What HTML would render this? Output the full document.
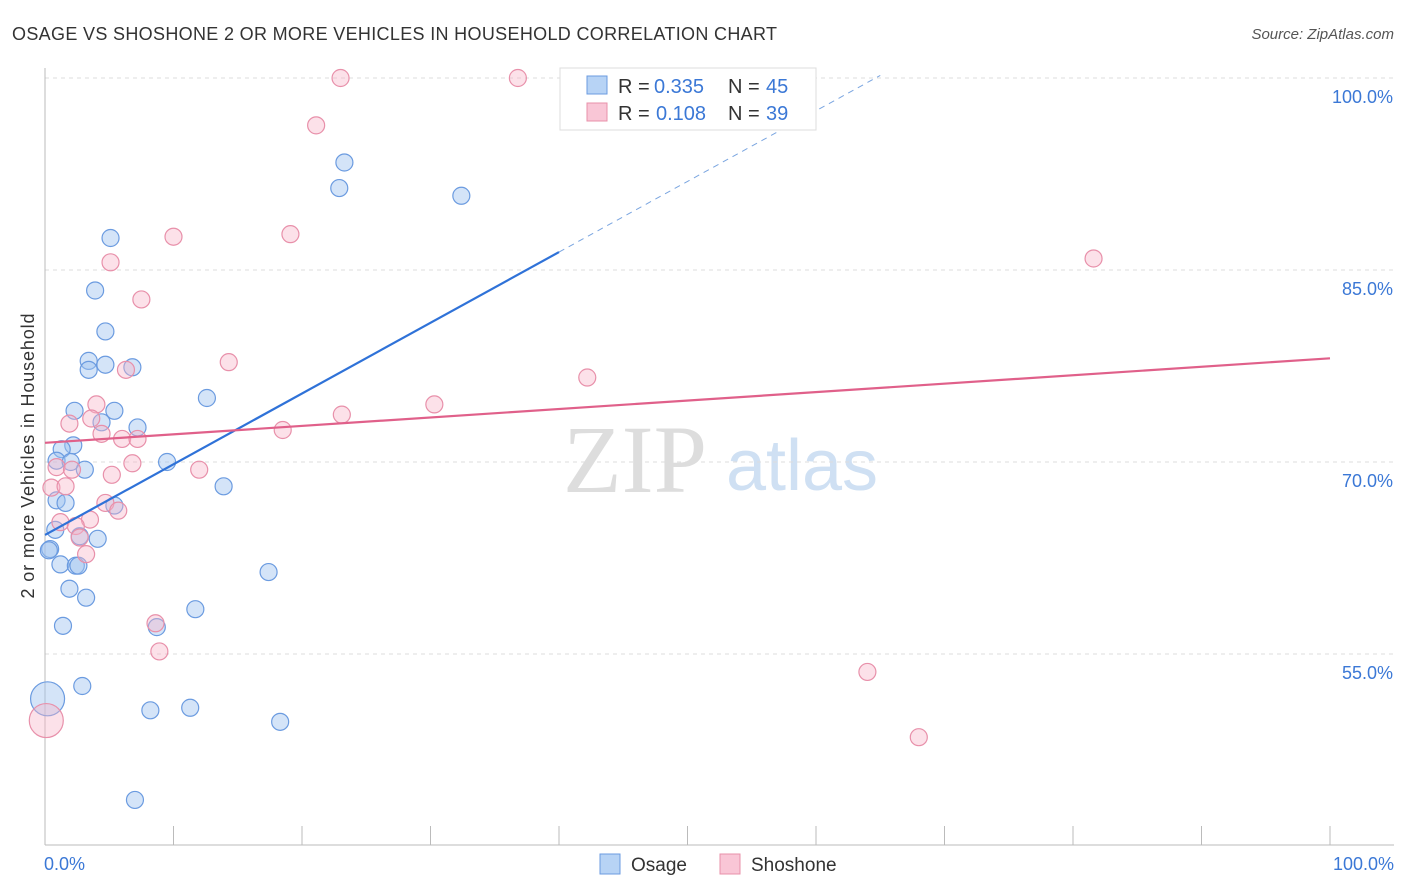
<!DOCTYPE html>
<html><head><meta charset="utf-8"><style>
body{margin:0;background:#fff;font-family:"Liberation Sans",sans-serif}
</style></head><body>
<svg id="c" width="1406" height="892" style="display:block">
<text x="12" y="40" font-size="18" fill="#333" textLength="765">OSAGE VS SHOSHONE 2 OR MORE VEHICLES IN HOUSEHOLD CORRELATION CHART</text>
<text x="1394" y="39" font-size="15" fill="#555" font-style="italic" text-anchor="end">Source: ZipAtlas.com</text>
<text x="635" y="492" font-size="96" fill="#ddd" font-family="Liberation Serif" text-anchor="middle">ZIP</text>
<text x="802" y="490" font-size="72" fill="#cfe0f3" text-anchor="middle">atlas</text>
<g id="grid"></g><g id="pts"></g>
<text transform="translate(34,456) rotate(-90)" font-size="18" fill="#333" text-anchor="middle" textLength="285">2 or more Vehicles in Household</text>
<text x="44" y="870" font-size="18" fill="#3b78d6">0.0%</text>
<text x="1394" y="870" font-size="18" fill="#3b78d6" text-anchor="end">100.0%</text>
<g>
<rect x="560" y="68" width="256" height="62" fill="#fff" stroke="#ddd"/>
<rect x="587" y="76" width="20" height="18" fill="#b7d3f5" stroke="#6b9be0"/>
<text x="618" y="93" font-size="20" fill="#333">R =</text>
<text x="654" y="93" font-size="20" fill="#3b78d6">0.335</text>
<text x="728" y="93" font-size="20" fill="#333">N =</text>
<text x="766" y="93" font-size="20" fill="#3b78d6">45</text>
<rect x="587" y="103" width="20" height="18" fill="#f9c6d6" stroke="#e890aa"/>
<text x="618" y="120" font-size="20" fill="#333">R =</text>
<text x="656" y="120" font-size="20" fill="#3b78d6">0.108</text>
<text x="728" y="120" font-size="20" fill="#333">N =</text>
<text x="766" y="120" font-size="20" fill="#3b78d6">39</text>
</g>
<g>
<rect x="600" y="854" width="20" height="20" fill="#b7d3f5" stroke="#6b9be0"/>
<text x="631" y="871" font-size="19" fill="#333">Osage</text>
<rect x="720" y="854" width="20" height="20" fill="#f9c6d6" stroke="#e890aa"/>
<text x="751" y="871" font-size="19" fill="#333">Shoshone</text>
</g>
</svg>
<script>
const osageX=[5.1,3.9,4.7,3.4,3.4,4.7,6.8,2.3,5.4,7.2,4.4,2.2,1.3,0.9,2,3.1,9.5,12.6,13.9,0.9,1.6,5.4,0.8,2.7,4.1,0.4,1.2,2.4,2.6,1.9,3.2,1.4,8.7,11.7,17.4,2.9,8.2,11.3,18.3,7,22.9,23.3,32.4,0.2,0.3];
const osageY=[87.5,83.4,80.2,77.9,77.2,77.6,77.4,74.0,74.0,72.7,73.1,71.3,71.0,70.1,70.0,69.4,70.0,75.0,68.1,67.0,66.8,66.6,64.7,64.2,64.0,63.2,62.0,61.9,61.9,60.1,59.4,57.2,57.1,58.5,61.4,52.5,50.6,50.8,49.7,43.6,91.4,93.4,90.8,51.5,63.1];
const shoX=[23,36.8,21.1,10,19.1,5.1,7.5,14.3,6.3,42.2,30.3,23.1,4,3.6,1.9,4.4,6,7.2,18.5,0.9,2.1,6.8,12,5.2,0.5,1.6,4.7,5.7,3.5,1.2,2.4,2.7,3.2,8.6,8.9,64,68,81.6,0.1];
const shoY=[100,100,96.3,87.6,87.8,85.6,82.7,77.8,77.2,76.6,74.5,73.7,74.5,73.4,73.0,72.2,71.8,71.8,72.5,69.6,69.4,69.9,69.4,69,68,68.1,66.8,66.2,65.5,65.3,65.0,64.1,62.8,57.4,55.2,53.6,48.5,85.9,49.8];
const X=v=>45+v*12.85, Y=v=>78+(100-v)*12.8;
const ns="http://www.w3.org/2000/svg";
function mk(t,a,p){const e=document.createElementNS(ns,t);for(const k in a)e.setAttribute(k,a[k]);p.appendChild(e);return e;}
const g=document.getElementById('grid');
[100,85,70,55].forEach(v=>{
const l=mk('line',{x1:45,x2:1394,y1:Y(v),y2:Y(v),stroke:'#ddd','stroke-dasharray':'4,4'},g);


const t=mk('text',{x:1393,y:Y(v)+25,'font-size':18,fill:'#3b78d6','text-anchor':'end'},g);
t.textContent=v.toFixed(1)+'%';


});
const ax=mk('line',{x1:45,x2:45,y1:68,y2:845,stroke:'#bbb'},g);


const bx=mk('line',{x1:45,x2:1394,y1:845,y2:845,stroke:'#bbb'},g);


for(let i=0;i<=10;i++){const tk=mk('line',{x1:X(i*10),x2:X(i*10),y1:826,y2:845,stroke:'#bbb'},g);

}
const p=document.getElementById('pts');
osageX.forEach((x,i)=>{const c=mk('circle',{cx:X(x),cy:Y(osageY[i]),r:i==43?17:8.5,fill:'rgba(160,196,240,0.45)',stroke:'#6b9be0','stroke-width':1.2},p);

});
shoX.forEach((x,i)=>{const c=mk('circle',{cx:X(x),cy:Y(shoY[i]),r:i==38?17:8.5,fill:'rgba(248,180,200,0.4)',stroke:'#e890aa','stroke-width':1.2},p);

});
const b1=mk('line',{x1:X(0),y1:Y(64.3),x2:X(40),y2:Y(86.4),stroke:'#2f72d8','stroke-width':2.2},p);


const b2=mk('line',{x1:X(40),y1:Y(86.4),x2:X(65),y2:Y(100.2),stroke:'#7aa5e0','stroke-width':1,'stroke-dasharray':'6,5'},p);


const s1=mk('line',{x1:X(0),y1:Y(71.5),x2:X(100),y2:Y(78.1),stroke:'#e0608a','stroke-width':2.2},p);


</script>
</body></html>
